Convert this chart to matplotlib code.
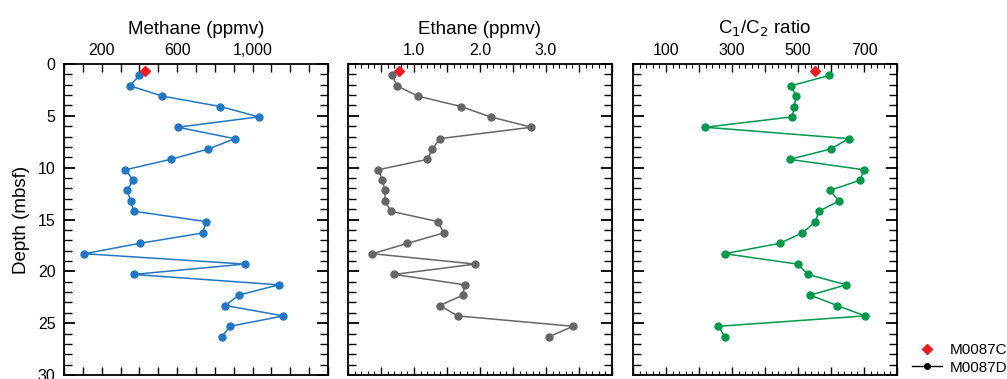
import matplotlib
matplotlib.use("Agg")
import matplotlib.pyplot as plt
from matplotlib.ticker import MultipleLocator, FuncFormatter
from matplotlib.lines import Line2D

plt.rcParams['font.family'] = ['Liberation Sans', 'DejaVu Sans']

# --- data ---
depth_d = [1.1, 2.1, 3.1, 4.1, 5.1, 6.1, 7.2, 8.2, 9.2, 10.2, 11.2, 12.2, 13.2,
           14.2, 15.2, 16.3, 17.3, 18.3, 19.3, 20.3, 21.3, 22.3, 23.3, 24.3,
           25.3, 26.3]
methane_d = [400, 349, 522, 829, 1032, 603, 905, 766, 565, 326, 367, 335, 353,
             370, 752, 736, 401, 108, 958, 369, 1138, 926, 856, 1163, 881, 838]
ethane_d = [0.67, 0.74, 1.06, 1.71, 2.16, 2.78, 1.39, 1.28, 1.20, 0.46, 0.52,
            0.56, 0.56, 0.65, 1.36, 1.45, 0.90, 0.37, 1.93, 0.70, 1.77, 1.74,
            1.39, 1.66, 3.41, 3.05]
ratio_d = [595, 479, 494, 489, 482, 219, 654, 599, 475, 699, 689, 596, 625,
           563, 553, 513, 444, 278, 499, 530, 646, 537, 619, 703, 259, 278]

depth_c = [0.7]
methane_c = [430]
ethane_c = [0.78]
ratio_c = [550]

titles = ["Methane (ppmv)", "Ethane (ppmv)", r"C$_1$/C$_2$ ratio"]
colors = ["#2177c4", "#666666", "#00984a"]
red = "#ee1c25"

W, H = 1007, 379
fig = plt.figure(figsize=(W / 100, H / 100), dpi=100)

lefts = [64, 348, 633]
aw = 264
top, bot = 64, 375

axes = []
for l in lefts:
    ax = fig.add_axes([l / W, 1 - bot / H, aw / W, (bot - top) / H])
    axes.append(ax)

series = [(methane_d, methane_c), (ethane_d, ethane_c), (ratio_d, ratio_c)]
xlims = [(0, 1400), (0, 4.0), (0, 800)]

for i, ax in enumerate(axes):
    xd, xc = series[i]
    ax.plot(xd, depth_d, color=colors[i], lw=1.1, marker='o', ms=5, zorder=3)
    ax.plot(xc, depth_c, ls='none', marker='D', ms=5, color=red, zorder=4)
    ax.set_xlim(*xlims[i])
    ax.set_ylim(30, 0)
    ax.xaxis.tick_top()
    ax.xaxis.set_label_position('top')
    ax.set_xlabel(titles[i], fontsize=13.5, labelpad=7)
    for s in ax.spines.values():
        s.set_linewidth(1.3)
    ax.yaxis.set_major_locator(MultipleLocator(5))
    ax.yaxis.set_minor_locator(MultipleLocator(1))
    ax.tick_params(axis='both', which='both', direction='in',
                   top=True, bottom=True, left=True, right=True, labelsize=11.5)
    ax.tick_params(axis='y', which='major', length=8, width=1.3, pad=6)
    ax.tick_params(axis='y', which='minor', length=6, width=1.0)
    ax.tick_params(axis='x', which='major', length=6, width=1.0, pad=4)
    ax.tick_params(axis='x', which='minor', length=3, width=0.8)
    if i > 0:
        ax.tick_params(axis='y', labelleft=False)

# methane ticks: every 100, labelled at 200, 600, 1000
axes[0].xaxis.set_major_locator(MultipleLocator(100))
axes[0].xaxis.set_major_formatter(FuncFormatter(
    lambda v, p: f"{int(v):,}" if int(round(v)) in (200, 600, 1000) else ""))
# ethane ticks
axes[1].xaxis.set_major_locator(MultipleLocator(0.5))
axes[1].xaxis.set_minor_locator(MultipleLocator(0.1))
axes[1].xaxis.set_major_formatter(FuncFormatter(
    lambda v, p: f"{v:.1f}" if abs(v - round(v)) < 1e-6 and 1 <= v <= 3 else ""))
# ratio ticks
axes[2].xaxis.set_major_locator(MultipleLocator(100))
axes[2].xaxis.set_minor_locator(MultipleLocator(20))
axes[2].xaxis.set_major_formatter(FuncFormatter(
    lambda v, p: f"{int(v)}" if int(round(v)) in (100, 300, 500, 700) else ""))

axes[0].set_ylabel("Depth (mbsf)", fontsize=13.5, labelpad=6)

handles = [
    Line2D([], [], ls='none', marker='D', ms=5, color=red, label="M0087C"),
    Line2D([], [], color='black', lw=1.0, marker='o', ms=4, label="M0087D"),
]
fig.legend(handles=handles, loc='lower right', bbox_to_anchor=(1.014, -0.025),
           frameon=False, fontsize=11, handlelength=2.0, handletextpad=0.5,
           labelspacing=0.25)

fig.savefig("out.png", dpi=100)
